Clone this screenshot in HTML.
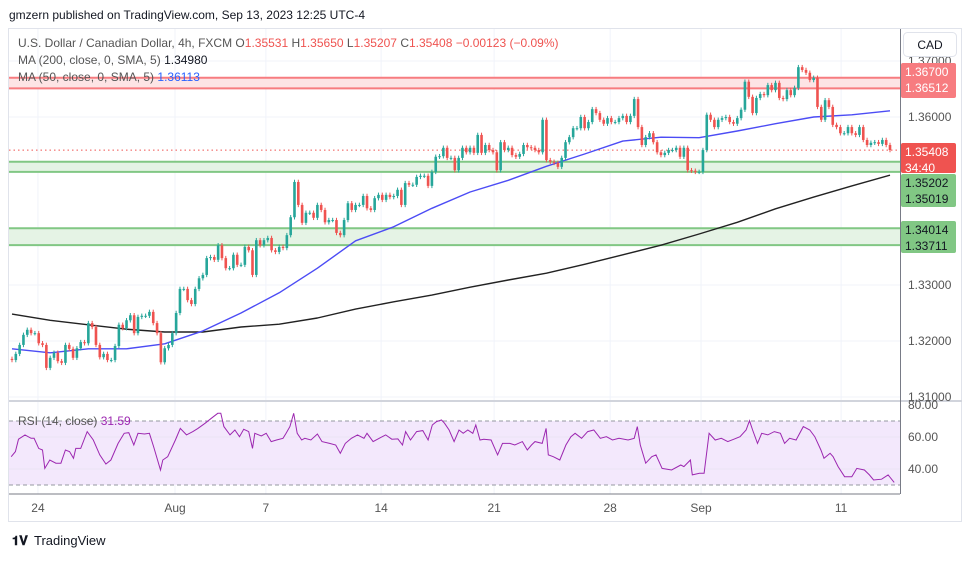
<!DOCTYPE html>
<html><head><meta charset="utf-8">
<style>
html,body{margin:0;padding:0;background:#fff;}
body{width:970px;height:557px;overflow:hidden;font-family:"Liberation Sans",sans-serif;}
svg text{font-family:"Liberation Sans",sans-serif;}
</style></head>
<body>
<svg id="chart" width="970" height="557" viewBox="0 0 970 557" xmlns="http://www.w3.org/2000/svg">
  <text x="9" y="19" font-size="12" fill="#131722">gmzern published on TradingView.com, Sep 13, 2023 12:25 UTC-4</text>
  <rect x="8.5" y="28.5" width="953" height="493" fill="#fff" stroke="#e0e3eb"/>
  <g id="grid"></g>
  <g id="zones"></g>
  <g id="rsiPanel"></g>
  <g id="ma"></g>
  <g id="candles"></g>
  <g id="axes"></g>
  <g font-size="12" fill="#555">
    <text x="18" y="47">U.S. Dollar / Canadian Dollar, 4h, FXCM  <tspan fill="#555">O</tspan><tspan fill="#ef5350">1.35531</tspan>  <tspan>H</tspan><tspan fill="#ef5350">1.35650</tspan>  <tspan>L</tspan><tspan fill="#ef5350">1.35207</tspan>  <tspan>C</tspan><tspan fill="#ef5350">1.35408</tspan>  <tspan fill="#ef5350">−0.00123 (−0.09%)</tspan></text>
    <text x="18" y="64">MA (200, close, 0, SMA, 5)  <tspan fill="#131722">1.34980</tspan></text>
    <text x="18" y="81">MA (50, close, 0, SMA, 5)  <tspan fill="#2962ff">1.36113</tspan></text>
    <text x="18" y="425">RSI (14, close)  <tspan fill="#9c27b0">31.59</tspan></text>
  </g>
  <g>
    <rect x="903.5" y="32.5" width="53" height="24" rx="4" fill="#fff" stroke="#e0e3eb"/>
    <text x="930" y="49" font-size="12" fill="#131722" text-anchor="middle">CAD</text>
  </g>
  <g>
    <text x="12" y="545" font-size="13" font-weight="bold" fill="#131722">𝟏𝐕</text>
    <text x="34" y="545" font-size="13" fill="#131722">TradingView</text>
  </g>
</svg>
<script>
const closes = [
1.3166,1.3177,1.3193,1.3211,1.3220,1.3214,1.3214,1.3196,1.3193,1.3152,1.3170,1.3179,1.3164,1.3161,1.3193,1.3186,1.3170,1.3187,1.3198,1.3196,
1.3232,1.3225,1.3193,1.3171,1.3177,1.3166,1.3166,1.3191,1.3229,1.3223,1.3237,1.3246,1.3214,1.3243,1.3245,1.3245,1.3252,1.3232,1.3214,1.3162,
1.3187,1.3193,1.3214,1.3250,1.3293,1.3293,1.3273,1.3266,1.3293,1.3312,1.3318,1.3348,1.3350,1.3345,1.3371,1.3348,1.3330,1.3330,1.3354,1.3336,
1.3336,1.3368,1.3362,1.3318,1.3380,1.3371,1.3380,1.3384,1.3362,1.3359,1.3368,1.3366,1.3389,1.3421,
1.3484,1.3443,1.3411,1.3429,1.3429,1.3420,1.3443,1.3434,1.3412,1.3416,1.3416,1.3393,1.3389,1.3416,1.3446,1.3434,1.3443,1.3443,1.3459,1.3437,
1.3434,1.3455,1.3461,1.3452,1.3461,1.3457,1.3459,1.3470,1.3443,1.3482,1.3479,1.3479,1.3493,1.3495,1.3495,1.3477,1.3502,1.3529,1.3530,1.3545,
1.3527,1.3527,1.3505,1.3527,1.3545,1.3537,1.3545,1.3536,1.3568,1.3536,1.3550,1.3541,1.3537,1.3505,1.3555,1.3541,1.3545,1.3532,1.3529,1.3534,
1.3550,1.3546,1.3545,1.3541,1.3537,1.3595,1.3523,1.3520,1.3518,1.3511,1.3527,1.3555,1.3564,1.3580,1.3580,1.3600,1.3580,1.3591,1.3614,1.3607,
1.3595,1.3588,1.3598,1.3591,1.3591,1.3598,1.3602,1.3591,1.3602,1.3632,1.3582,1.3550,1.3564,1.3571,1.3555,1.3537,1.3532,1.3536,1.3541,1.3541,
1.3545,1.3529,1.3545,1.3505,1.3504,1.3502,1.3502,1.3541,1.3604,1.3595,1.3582,1.3595,1.3598,1.3600,1.3591,1.3588,1.3598,1.3613,1.3663,1.3636,
1.3607,1.3634,1.3641,1.3639,1.3657,1.3648,1.3661,1.3634,1.3632,1.3648,1.3639,1.3652,1.3689,1.3684,1.3679,1.3666,1.3670,1.3618,1.3595,1.3630,
1.3618,1.3586,1.3582,1.3571,1.3571,1.3582,1.3571,1.3568,1.3582,1.3559,1.3550,1.3554,1.3555,1.3552,1.3559,1.3550,1.3541
];
const firstOpen = 1.3168;
// moving averages sampled every 10 bars
const ma50 = [1.3186,1.3179,1.3186,1.3186,1.3195,1.3218,1.3250,1.3286,1.3330,1.3379,1.3404,1.3437,1.3466,1.3487,1.3512,1.3534,1.3557,1.3564,1.3563,1.3575,1.3588,1.3600,1.3604,1.3611];
const ma200 = [1.3248,1.3237,1.3229,1.3221,1.3216,1.3216,1.3225,1.3230,1.3241,1.3257,1.3270,1.3282,1.3296,1.3309,1.3321,1.3337,1.3354,1.3371,1.3391,1.3412,1.3436,1.3457,1.3477,1.3496];
const rsi = [47.7,50.9,58.6,61.3,59.2,59.2,52.9,51.9,40.4,45.6,43.6,43.6,51.9,50.9,46.7,52.9,52.9,63.4,58.1,48.8,
43.1,45.6,56.0,62.3,62.7,55.0,62.3,61.9,62.3,54.0,39.4,45.6,47.7,58.1,65.4,61.3,63.4,65.4,68.6,71.7,
74.8,74.8,66.5,61.3,64.4,60.2,64.8,63.4,52.9,62.3,60.6,62.3,57.1,58.1,59.2,62.3,66.5,74.8,62.3,58.1,
59.2,58.1,61.9,57.1,56.0,55.0,49.8,56.0,59.2,61.3,59.2,62.3,57.1,59.2,61.3,58.6,58.8,55.0,63.4,58.1,
63.4,64.0,58.1,67.5,69.6,70.6,68.6,64.4,57.1,64.4,62.3,64.4,62.3,67.5,58.1,58.6,58.1,48.8,56.0,56.0,
55.0,57.1,51.9,55.0,57.1,56.0,65.4,48.8,47.7,45.6,55.0,60.2,62.3,59.2,63.4,64.4,59.2,60.2,58.1,59.2,
58.1,59.2,66.5,55.0,43.6,47.7,48.8,40.4,39.4,42.5,41.5,45.6,36.3,37.3,37.3,62.3,58.1,59.2,57.1,58.6,
60.2,64.4,70.2,64.4,56.0,62.3,61.3,63.4,62.3,56.0,59.2,58.1,66.5,64.4,60.2,51.9,46.7,49.8,47.7,41.5,
35.2,35.2,40.4,39.4,36.3,33.1,33.6,36.3,31.6];
// bar index (time) of each RSI sample
const rsiBars = [-0.2,0.9,1.7,3.4,5.0,5.8,7.0,8.0,8.6,9.9,11.5,12.8,14.0,15.1,16.1,16.7,18.0,19.7,21.3,23.0,
24.6,25.9,27.8,29.4,30.6,31.9,33.0,34.7,36.0,37.1,38.9,39.5,40.8,42.8,44.1,45.7,47.4,48.7,50.6,52.2,
53.9,54.7,55.5,57.1,58.4,59.6,60.7,62.0,63.0,63.6,65.3,66.6,67.9,69.3,71.0,71.8,72.8,73.8,74.7,75.9,
76.7,78.3,80.0,81.2,83.2,84.8,86.0,87.3,88.9,90.5,92.2,93.0,94.6,96.2,97.9,99.5,101.1,102.3,103.1,104.4,
106.0,107.6,109.0,110.1,111.2,112.5,113.3,114.5,115.8,117.1,118.2,119.4,120.7,121.5,122.6,123.6,125.5,127.2,128.5,130.4,
131.7,133.7,135.0,136.1,137.0,138.9,139.9,140.5,141.8,143.5,145.1,146.4,147.5,149.2,150.8,152.4,154.1,155.7,157.3,159.0,
161.4,163.0,163.8,164.6,166.0,167.6,168.7,170.3,172.8,175.2,176.0,177.7,178.2,180.1,181.3,182.6,184.2,185.8,187.5,189.1,
190.7,192.3,193.2,194.0,195.3,196.4,198.0,199.7,201.3,202.4,203.7,205.4,207.3,209.0,210.3,211.9,212.7,214.3,215.1,216.4,
218.1,220.0,221.3,223.3,224.6,225.7,227.8,229.5,231.1];
const priceTicks = [1.37,1.36,1.33,1.32,1.31];
const rsiTicks = [80,60,40];
const dateLabels = ["24","Aug","7","14","21","28","Sep","11"];
const dateBars = [6.8,42.7,66.5,96.7,126.3,156.7,180.5,217.2];
const zoneLevels = [[1.36700,1.36512,"red"],[1.35202,1.35019,"green"],[1.34014,1.33711,"green"]];
const lastPrice = 1.35408;

const NS="http://www.w3.org/2000/svg";
const X0=12, X1=890, PR=900;
const xOf=i=>X0+i*(X1-X0)/(closes.length-1);
const yOf=p=>117+(1.36-p)*5600;
const yR=v=>437+(60-v)*1.6;
function mk(parent,tag,attrs){const e=document.createElementNS(NS,tag);for(const k in attrs)e.setAttribute(k,attrs[k]);parent.appendChild(e);return e;}
const G=id=>document.getElementById(id);

// grid
const grid=G('grid');
dateBars.forEach(b=>{const l=mk(grid,'line',{x1:xOf(b),x2:xOf(b),y1:29,y2:494,stroke:'#f0f3fa'});

});
priceTicks.forEach(p=>{const l=mk(grid,'line',{x1:9,x2:PR,y1:yOf(p),y2:yOf(p),stroke:'#f0f3fa'});

});

// zones
const zones=G('zones');
zoneLevels.forEach(z=>{
  const stroke=z[2]==='red'?'#f77c80':'#81c784', fill=z[2]==='red'?'#fde4e5':'#e5f3e5';
  const r=mk(zones,'rect',{x:9,y:yOf(z[0]),width:PR-9,height:yOf(z[1])-yOf(z[0]),fill:fill});
  
  
  [z[0],z[1]].forEach(p=>{const l=mk(zones,'line',{x1:9,x2:PR,y1:yOf(p),y2:yOf(p),stroke:stroke,'stroke-width':2});
  
  });
});
const dl=mk(zones,'line',{x1:9,x2:PR,y1:yOf(lastPrice),y2:yOf(lastPrice),stroke:'#ef5350','stroke-dasharray':'1.5,3'});



// MA lines
const ma=G('ma');
function maPath(arr,color,name){
  const pts=arr.map((v,k)=>xOf(Math.min(k*10,closes.length-1)).toFixed(1)+','+yOf(v).toFixed(1)).join(' ');
  const pl=mk(ma,'polyline',{points:pts,fill:'none',stroke:color,'stroke-width':1.4,'stroke-linejoin':'round'});
  
  
}
maPath(ma200,'#222','ma200-line');
maPath(ma50,'#4c4cf5','ma50-line');

// candles
const cg=G('candles');
const wickPad=0.0004;
closes.forEach((c,i)=>{
  const o=i===0?firstOpen:closes[i-1];
  const up=c>=o, col=up?'#26a69a':'#ef5350', x=xOf(i);
  const hi=Math.max(o,c)+wickPad, lo=Math.min(o,c)-wickPad;
  const g=mk(cg,'g',{});
  
  
  mk(g,'line',{x1:x,x2:x,y1:yOf(hi),y2:yOf(lo),stroke:col,'stroke-width':1});
  const yt=yOf(Math.max(o,c)), yb=yOf(Math.min(o,c));
  mk(g,'rect',{x:x-1.3,y:yt,width:2.6,height:Math.max(1,yb-yt),fill:col});
});

// RSI panel
const rp=G('rsiPanel');
const sep=mk(rp,'line',{x1:9,x2:962,y1:401,y2:401,stroke:'#d1d4dc','stroke-width':2});


const band=mk(rp,'rect',{x:9,y:yR(70),width:PR-9,height:yR(30)-yR(70),fill:'#f3e8fc'});


[70,30].forEach(v=>{const l=mk(rp,'line',{x1:9,x2:PR,y1:yR(v),y2:yR(v),stroke:'#9598a1','stroke-dasharray':'4,3'});

});
[60,40].forEach(v=>mk(rp,'line',{x1:9,x2:PR,y1:yR(v),y2:yR(v),stroke:'#ebe3f5'}));
const rpts=rsi.map((v,k)=>xOf(rsiBars[k]).toFixed(1)+','+yR(v).toFixed(1)).join(' ');
const rl=mk(rp,'polyline',{points:rpts,fill:'none',stroke:'#9c27b0','stroke-width':1});



// axes
const ax=G('axes');
mk(ax,'line',{x1:PR+0.5,x2:PR+0.5,y1:29,y2:494,stroke:'#787b86'});
mk(ax,'line',{x1:9,x2:PR,y1:494,y2:494,stroke:'#787b86'});
priceTicks.forEach(p=>{const t=mk(ax,'text',{x:908,y:yOf(p)+4,'font-size':12,fill:'#555'});t.textContent=p.toFixed(5);

});
rsiTicks.forEach(v=>{const t=mk(ax,'text',{x:908,y:yR(v)+4,'font-size':12,fill:'#555'});t.textContent=v.toFixed(2);

});
dateLabels.forEach((d,k)=>{const t=mk(ax,'text',{x:xOf(dateBars[k]),y:512,'font-size':12,fill:'#555','text-anchor':'middle'});t.textContent=d;

});
function label(y1,y2,bg,fg,lines,name){
  const g=mk(ax,'g',{});
  
  
  mk(g,'rect',{x:901,y:y1,width:55,height:y2-y1,fill:bg,rx:2});
  lines.forEach((s,k)=>{const t=mk(g,'text',{x:905,y:y1+13+k*16,'font-size':12,fill:fg});t.textContent=s;});
}
label(63,98,'#f77c80','#fff',['1.36700','1.36512'],'resistance-price-label');
label(143,173,'#ef5350','#fff',['1.35408','34:40'],'last-price-label');
label(174,207,'#81c784','#131722',['1.35202','1.35019'],'support-price-label');
label(221,253,'#81c784','#131722',['1.34014','1.33711'],'support2-price-label');
</script>
</body></html>
